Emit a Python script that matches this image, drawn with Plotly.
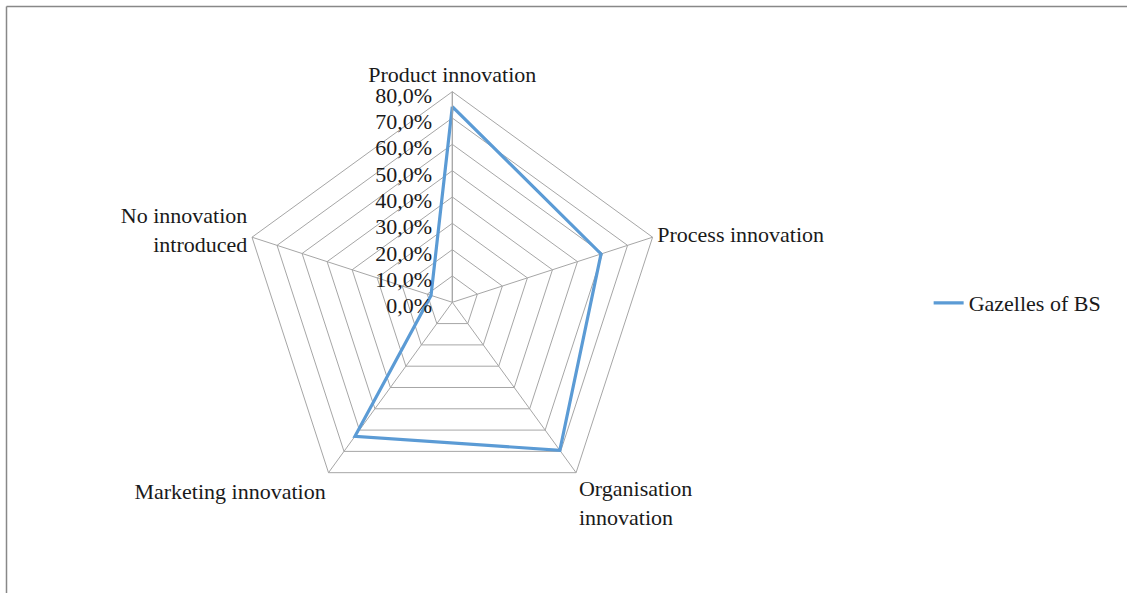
import plotly.graph_objects as go

categories = ["Product innovation", "Process innovation", "Organisation<br>innovation",
              "Marketing innovation", "No innovation<br>introduced"]
gazelles = [0.743, 0.594, 0.695, 0.629, 0.085]
series_name = "Gazelles of BS"
tick_vals = [0, 0.1, 0.2, 0.3, 0.4, 0.5, 0.6, 0.7, 0.8]

W, H = 1127, 593
cx, cy, R = 452.3, 302.3, 210.6

fig = go.Figure()
fig.add_trace(go.Scatterpolar(
    r=gazelles + [gazelles[0]],
    theta=categories + [categories[0]],
    mode="lines",
    name=series_name,
    line=dict(color="#5B9BD5", width=3.2),
    showlegend=True,
))

font_family = "Liberation Serif, Times New Roman, serif"
grid = "#A6A6A6"
fs = 22

fig.update_layout(
    width=W, height=H,
    margin=dict(l=0, r=0, t=0, b=0),
    paper_bgcolor="white",
    plot_bgcolor="white",
    separators=", ",
    font=dict(family=font_family, size=fs, color="#1a1a1a"),
    polar=dict(
        domain=dict(x=[(cx - R) / W, (cx + R) / W], y=[(H - cy - R) / H, (H - cy + R) / H]),
        gridshape="linear",
        bgcolor="white",
        radialaxis=dict(
            range=[0, 0.8], tickvals=tick_vals, tickformat=".1%",
            angle=90, side="counterclockwise", showline=True, linecolor=grid, linewidth=1,
            gridcolor=grid, gridwidth=1, ticks="", tickfont=dict(size=fs, family=font_family),
        ),
        angularaxis=dict(
            rotation=90, direction="clockwise", showline=True, linecolor=grid, linewidth=1,
            gridcolor=grid, gridwidth=1, ticks="", tickfont=dict(size=fs, family=font_family),
        ),
    ),
    legend=dict(x=0.824, y=0.489, xanchor="left", yanchor="middle",
                font=dict(size=fs, family=font_family), bgcolor="rgba(0,0,0,0)"),
    shapes=[
        dict(type="line", xref="paper", yref="paper", x0=6.5 / W, x1=1.01, y0=1 - 6.5 / H, y1=1 - 6.5 / H,
             line=dict(color="#888888", width=1.5)),
        dict(type="line", xref="paper", yref="paper", x0=6.5 / W, x1=6.5 / W, y0=-0.02, y1=1 - 6.5 / H,
             line=dict(color="#888888", width=1.5)),
    ],
)

fig.write_html("out.html", config={"displayModeBar": False},
               post_script="document.body.style.margin='0';")
